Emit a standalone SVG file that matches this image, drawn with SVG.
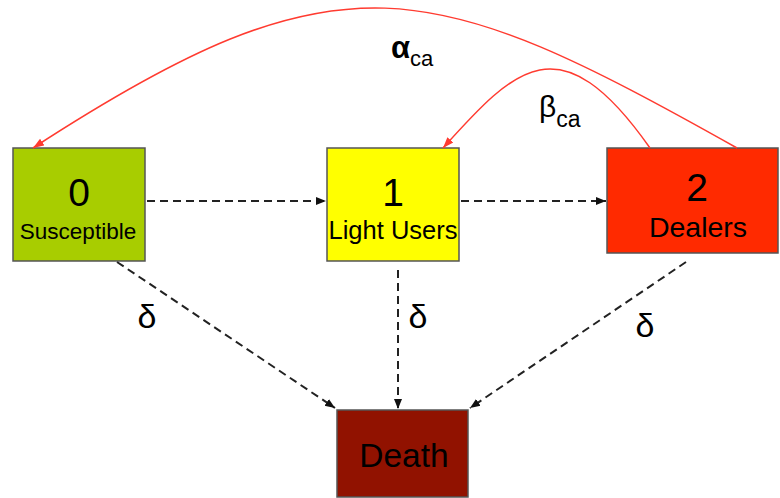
<svg xmlns="http://www.w3.org/2000/svg" width="780" height="498" viewBox="0 0 780 498">
  <style>
    text { font-family: "Liberation Sans", Arial, sans-serif; fill: #000; }
    .box { stroke: #555; stroke-width: 1.5; }
    .num { font-size: 39px; text-anchor: middle; }
    .name { text-anchor: middle; }
    .flow { fill: none; stroke: #222; stroke-width: 2; stroke-dasharray: 8 5; }
    .rate { fill: none; stroke: #ff3b30; stroke-width: 1.5; }
    .sym { font-size: 34px; text-anchor: middle; }
  </style>
  <defs>
    <marker id="blackHead" markerUnits="userSpaceOnUse" markerWidth="11" markerHeight="10" refX="10" refY="5" orient="auto">
      <path d="M0,1 L10,5 L0,9 z" fill="#111"/>
    </marker>
    <marker id="redHead" markerUnits="userSpaceOnUse" markerWidth="12" markerHeight="10" refX="11" refY="5" orient="auto">
      <path d="M0,1 L11,5 L0,9 z" fill="#ff3b30"/>
    </marker>
  </defs>

  <!-- compartments -->
  <g id="susceptible">
    <rect class="box" x="13" y="148" width="132" height="113" fill="#a8cd00"/>
    <text class="num" x="79" y="206">0</text>
    <text class="name" x="78" y="239" font-size="22.5">Susceptible</text>
  </g>
  <g id="light-users">
    <rect class="box" x="327" y="148" width="132" height="113" fill="#ffff00"/>
    <text class="num" x="393" y="206">1</text>
    <text class="name" x="393" y="239" font-size="25.5">Light Users</text>
  </g>
  <g id="dealers">
    <rect class="box" x="607" y="148" width="171" height="105" fill="#ff2a00"/>
    <text class="num" x="697" y="201">2</text>
    <text class="name" x="698" y="237" font-size="28.5">Dealers</text>
  </g>
  <g id="death">
    <rect class="box" x="337" y="410" width="131" height="87" fill="#911200"/>
    <text class="name" x="404" y="467" font-size="33.5">Death</text>
  </g>

  <!-- transitions -->
  <g id="connectors">
    <line class="flow" x1="147" y1="201" x2="326" y2="201" marker-end="url(#blackHead)"/>
    <line class="flow" x1="461" y1="201" x2="606" y2="201" marker-end="url(#blackHead)"/>
    <line class="flow" x1="117" y1="262" x2="335" y2="408" marker-end="url(#blackHead)"/>
    <line class="flow" x1="398" y1="270" x2="398" y2="409" marker-end="url(#blackHead)"/>
    <line class="flow" x1="686" y1="262" x2="470" y2="408" marker-end="url(#blackHead)"/>
    <path class="rate" d="M737,148 C429,-25 341,-52 33,148" marker-end="url(#redHead)"/>
    <path class="rate" d="M650,148 C560,20 515,68 443,148" marker-end="url(#redHead)"/>
  </g>

  <!-- rate labels -->
  <g id="labels">
    <text x="391" y="58" font-size="31" font-weight="bold">α<tspan font-size="22" font-weight="normal" dy="8">ca</tspan></text>
    <text x="539" y="117" font-size="30">β<tspan font-size="23" dy="10">ca</tspan></text>
    <text class="sym" x="147" y="328">δ</text>
    <text class="sym" x="418" y="328">δ</text>
    <text class="sym" x="645" y="337">δ</text>
  </g>
</svg>
